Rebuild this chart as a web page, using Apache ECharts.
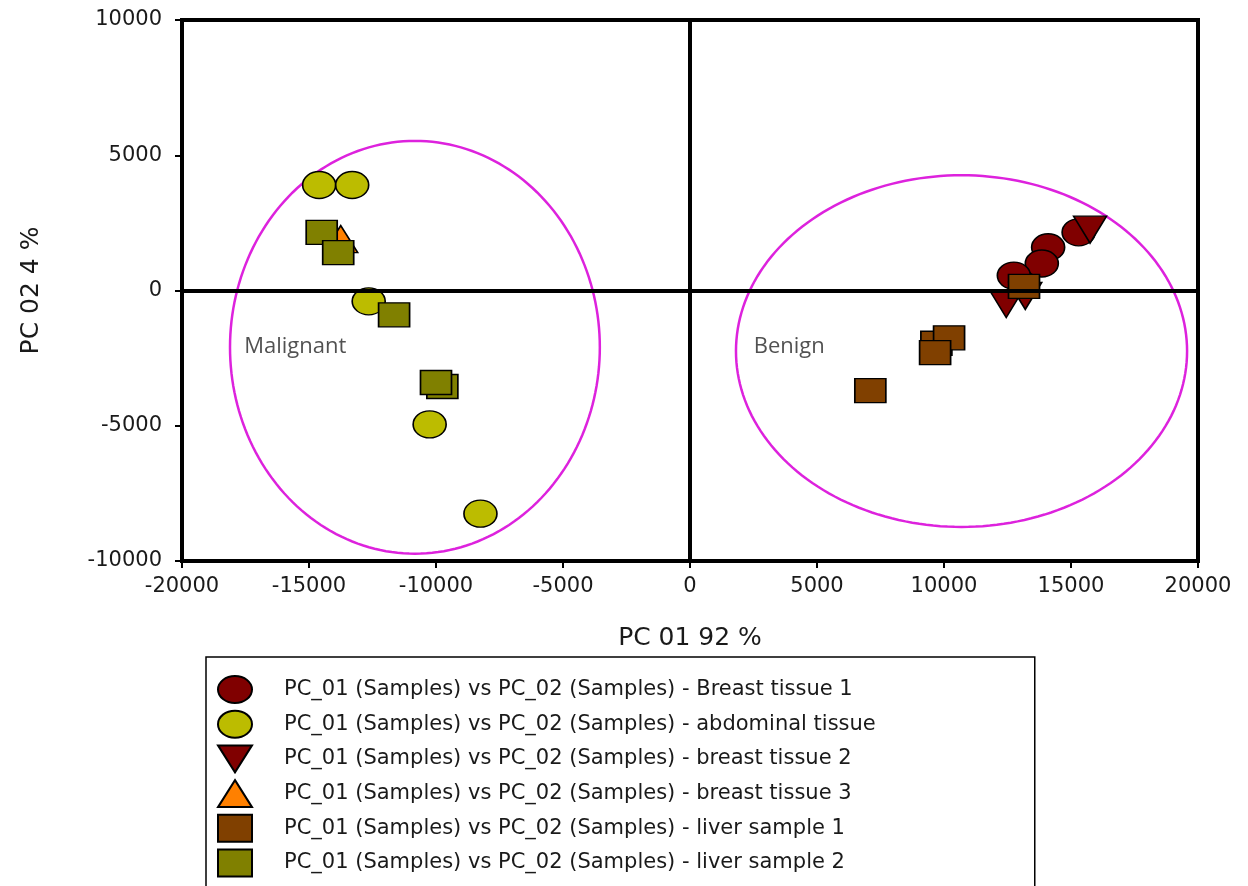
<!DOCTYPE html>
<html>
<head>
<meta charset="utf-8">
<script src="https://cdn.jsdelivr.net/npm/echarts@6/dist/echarts.min.js"></script>
<style>
html,body{margin:0;padding:0;background:#ffffff;}
#chart{width:1248px;height:886px;}
</style>
</head>
<body>
<div id="chart"></div>
<script>
// ---- data ----
const seriesNames = [
  'PC_01 (Samples) vs PC_02 (Samples) - Breast tissue 1',
  'PC_01 (Samples) vs PC_02 (Samples) - abdominal tissue',
  'PC_01 (Samples) vs PC_02 (Samples) - breast tissue 2',
  'PC_01 (Samples) vs PC_02 (Samples) - breast tissue 3',
  'PC_01 (Samples) vs PC_02 (Samples) - liver sample 1',
  'PC_01 (Samples) vs PC_02 (Samples) - liver sample 2'
];
const breastTissue1 = [[15300, 2150], [14100, 1600], [13850, 1000], [12750, 550]];
const abdominalTissue = [[-14600, 3900], [-13300, 3900], [-12650, -400], [-10250, -4950], [-8250, -8250]];
const breastTissue2 = [[15750, 2250], [12450, -500], [13200, -200]];
const breastTissue3 = [[-13750, 1900]];
const liverSample1 = [[13150, 150], [9700, -1950], [10200, -1750], [9650, -2300], [7100, -3700]];
const liverSample2 = [[-14500, 2150], [-13850, 1400], [-11650, -900], [-9750, -3550], [-10000, -3400]];

// group ellipses (centre x, centre y, radius x, radius y) in data units
const ellipseCx = [-10830, 10690];
const ellipseCy = [-2100, -2240];
const ellipseRx = [7280, 8880];
const ellipseRy = [7630, 6500];

// group labels
const annotationText = ['Malignant', 'Benign'];
const annotationX = [-17550, 2510];
const annotationY = [-2090, -2090];

// axis ticks
const xMin = -20000, xMax = 20000, xStep = 5000;
const yMin = -10000, yMax = 10000, yStep = 5000;
const xAxisTitle = 'PC 01 92 %';
const yAxisTitle = 'PC 02 4 %';

// ---- chart ----
const seriesData = [breastTissue1, abdominalTissue, breastTissue2, breastTissue3, liverSample1, liverSample2];
const seriesColors = ['#800000', '#bcbc00', '#800000', '#ff8000', '#804000', '#808000'];
const downTriangle = 'path://M0,0 L20,0 L10,17 Z';
const ellipseIcon = 'path://M0,10 A10,10 0 1,1 20,10 A10,10 0 1,1 0,10 Z';
const seriesSymbols = ['circle', 'circle', downTriangle, 'triangle', 'rect', 'rect'];
const legendIcons = [ellipseIcon, ellipseIcon, downTriangle, 'triangle', 'rect', 'rect'];
const seriesSizes = [[33, 27], [33, 27], [33, 27], [34, 27], [31, 24], [31, 24]];

const FONT = 'DejaVu Sans';

const scatterSeries = seriesNames.map((name, i) => ({
  type: 'scatter',
  name: name,
  data: seriesData[i],
  symbol: seriesSymbols[i],
  symbolSize: seriesSizes[i],
  symbolKeepAspect: false,
  itemStyle: { color: seriesColors[i], borderColor: '#000', borderWidth: 1.5, opacity: 1 },
  emphasis: { disabled: true },
  z: 3
}));

const option = {
  animation: false,
  backgroundColor: '#ffffff',
  grid: {
    left: 182, top: 20, right: 50, bottom: 325,
    show: true, borderColor: '#000', borderWidth: 4, backgroundColor: 'transparent'
  },
  xAxis: {
    type: 'value', min: xMin, max: xMax, interval: xStep,
    axisLine: { onZero: false, lineStyle: { color: '#000', width: 4 } },
    axisTick: { show: true, length: 7, lineStyle: { color: '#000', width: 2 } },
    splitLine: { show: false },
    axisLabel: { margin: 15, fontSize: 21, fontFamily: FONT, color: '#1a1a1a', formatter: v => String(v) },
    name: xAxisTitle, nameLocation: 'middle', nameGap: 65,
    nameTextStyle: { fontSize: 25, fontFamily: FONT, color: '#1a1a1a' }
  },
  yAxis: {
    type: 'value', min: yMin, max: yMax, interval: yStep,
    axisLine: { onZero: false, lineStyle: { color: '#000', width: 4 } },
    axisTick: { show: true, length: 7, lineStyle: { color: '#000', width: 2 } },
    splitLine: { show: false },
    axisLabel: { margin: 20, fontSize: 21, fontFamily: FONT, color: '#1a1a1a', formatter: v => String(v) },
    name: yAxisTitle, nameLocation: 'middle', nameGap: 138, nameRotate: 90,
    nameTextStyle: { fontSize: 25, fontFamily: FONT, color: '#1a1a1a' }
  },
  legend: {
    orient: 'vertical', left: 206, top: 657, height: 240,
    padding: [18, 159, 24, 11],
    itemWidth: 34, itemHeight: 27, itemGap: 5.7,
    symbolKeepAspect: false,
    borderColor: '#000', borderWidth: 1.5,
    selectedMode: false,
    textStyle: { fontFamily: FONT, fontSize: 21, color: '#1a1a1a', lineHeight: 27, padding: [0, 0, 0, 27] },
    data: seriesNames.map((n, i) => ({ name: n, icon: legendIcons[i] }))
  },
  series: [
    {
      type: 'custom', name: 'ellipses', silent: true, z: 1,
      data: ellipseCx.map((cx, i) => [cx, ellipseCy[i], ellipseRx[i], ellipseRy[i]]),
      encode: { x: 0, y: 1 },
      renderItem: (params, api) => {
        const cx = api.value(0), cy = api.value(1), rx = api.value(2), ry = api.value(3);
        const pts = [];
        for (let k = 0; k <= 200; k++) {
          const t = k / 200 * 2 * Math.PI;
          pts.push(api.coord([cx + rx * Math.cos(t), cy + ry * Math.sin(t)]));
        }
        return { type: 'polyline', shape: { points: pts }, style: { fill: null, stroke: '#dd22dd', lineWidth: 2.5 } };
      }
    },
    ...scatterSeries,
    {
      type: 'scatter', name: 'annotations', silent: true, z: 4,
      symbolSize: 0,
      data: annotationText.map((t, i) => [annotationX[i], annotationY[i], t]),
      label: {
        show: true, position: 'right', distance: 0,
        formatter: p => p.value[2],
        fontFamily: 'Open Sans', fontSize: 22, color: '#262626'
      },
      markLine: {
        silent: true, symbol: ['none', 'none'], label: { show: false },
        lineStyle: { color: '#000', width: 4, type: 'solid' },
        emphasis: { disabled: true },
        data: [{ xAxis: 0 }, { yAxis: 0 }]
      }
    }
  ]
};

const chart = echarts.init(document.getElementById('chart'), null, { renderer: 'canvas' });
chart.setOption(option);
</script>
</body>
</html>
